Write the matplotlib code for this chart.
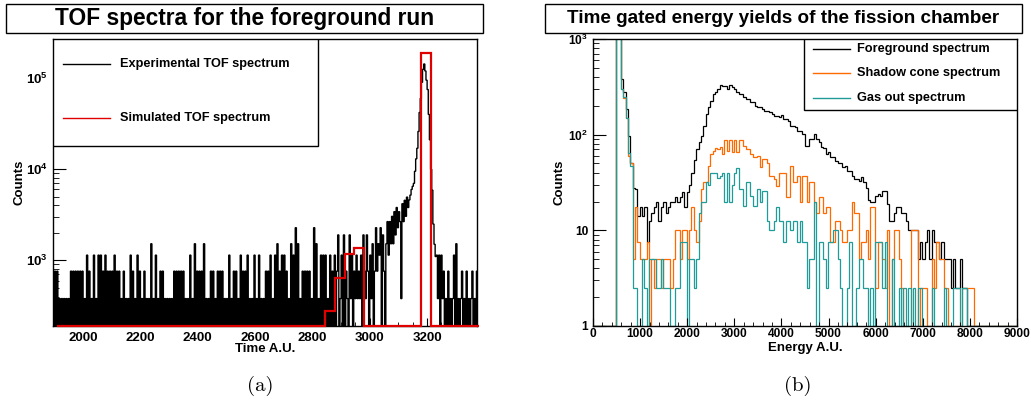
import numpy as np
import matplotlib
matplotlib.use('Agg')
import matplotlib.pyplot as plt
from matplotlib.patches import Rectangle
from matplotlib.ticker import FixedLocator, NullFormatter, MultipleLocator, LogLocator

plt.rcParams['font.family'] = ['Liberation Sans', 'DejaVu Sans']
plt.rcParams['font.weight'] = 'bold'
plt.rcParams['mathtext.fontset'] = 'custom'
plt.rcParams['mathtext.rm'] = 'Liberation Sans:bold'
plt.rcParams['mathtext.bf'] = 'Liberation Sans:bold'
plt.rcParams['mathtext.it'] = 'Liberation Sans:bold:italic'
plt.rcParams['mathtext.default'] = 'rm'

# ================= (a) TOF spectra =================
tof_start, tof_bin = 1896, 4      # measured TOF histogram: first edge, bin width
tof_unit = 380                    # counts per step of the digits below
# measured spectrum, 1896-3064, one digit per bin (x tof_unit counts)
tof_noise_lo = ("0202010101" "0101020202" "0202020103" "0201030103"
                "0302030202" "0203020201" "0201010302" "0103020102"
                "0101040103" "0102020101" "0101020202" "0202010103"
                "0104020202" "0401010202" "0102020201" "0103010202"
                "0103020203" "0101030103" "0101020203" "0103040203"
                "0302010403" "0604010202" "0202010604" "010303"
                "0301030203" "0250130502" "1051302131" "2130521520"
                "3140262436" "052047")
# measured spectrum, 3064-3232 (counts)
tof_peak = [1140, 2660, 1520, 3040, 1520, 3420, 1900, 3800, 2280, 3420,
            2660, 380, 4180, 2660, 4560, 3040, 4940, 3800,
            4600, 5200, 6000, 6500, 7000, 9500, 13000, 17000, 26000, 42000,
            60000, 90000, 125000, 143000, 120000, 95000, 75000, 40000,
            21000, 10000, 5900, 2500, 1500, 1100]
# measured spectrum, 3232-3376, one digit per bin (x tof_unit counts)
tof_noise_hi = "3130312010" "2010130401" "0120102010" "120102"

sim_start, sim_bin = 1910, 33.4   # simulated histogram layout
sim_counts = [0] * 28 + [277, 646, 1163, 1365] + [0] * 6 + [187000] + [0] * 5

tof_xticks = [2000, 2200, 2400, 2600, 2800, 3000, 3200]

# ================= (b) energy yields =================
e_start, e_bin = 490, 50          # first filled bin edge, bin width
foreground = [3000, 3000, 382, 277, 186, 98, 51, 28, 27, 14,
              17.5, 14, 17.5, 7.5, 12.5, 15, 17.5, 20, 12.5, 17.5,
              20, 15, 17.5, 20, 20, 22.5, 20, 22.5, 25, 17.5,
              25, 30, 40, 55, 70, 83, 98, 124, 165, 193,
              226, 266, 277, 300, 330, 320, 325, 300, 333, 313,
              300, 277, 266, 266, 246, 236, 236, 218, 218, 201,
              193, 193, 185, 178, 178, 171, 165, 158, 158, 152,
              161, 146, 146, 140, 124, 124, 119, 110, 110, 102,
              77, 77, 90, 90, 102, 90, 83, 74, 72, 63,
              66, 58, 58, 53, 51, 51, 46, 47, 42, 42,
              37, 34, 34, 33, 36, 32, 28, 21, 20, 20,
              23, 24, 23, 26, 26, 19, 12.5, 12.5, 15, 17.5,
              17.5, 15, 15, 12.5, 10, 10, 10, 10, 5, 7.5,
              5, 7.5, 10, 5, 10, 7.5, 7.5, 5, 7.5, 5,
              5, 5, 2.5, 5, 2.5, 2.5, 5, 2.5, 2.5, 0,
              0, 0]
shadow = [3000, 3000, 300, 240, 150, 60, 50, 5, 17.5, 7.5,
          5, 5, 5, 7.5, 0, 5, 2.5, 5, 5, 2.5,
          5, 5, 5, 2.5, 5, 10, 10, 5, 10, 10,
          5, 10, 17.5, 10, 7.5, 12.5, 27, 32, 32, 47,
          63, 68, 72, 70, 74, 63, 87, 68, 87, 66,
          87, 66, 87, 87, 77, 71, 71, 63, 58, 58,
          60, 46, 56, 56, 51, 37, 37, 34, 29, 40,
          40, 40, 22.5, 22.5, 47, 32, 32, 37, 20, 37,
          37, 20, 32, 32, 20, 15, 22.5, 22.5, 15, 17.5,
          17.5, 7.5, 7.5, 12.5, 12.5, 10, 7.5, 7.5, 10, 10,
          20, 15, 15, 5, 7.5, 7.5, 10, 5, 17.5, 17.5,
          2.5, 7.5, 7.5, 5, 2.5, 10, 0, 5, 10, 10,
          5, 2.5, 0, 0, 0, 10, 10, 10, 0, 2.5,
          2.5, 2.5, 0, 0, 5, 2.5, 7.5, 5, 5, 2.5,
          2.5, 0, 0, 0, 0, 0, 0, 2.5, 2.5, 2.5,
          2.5, 2.5]
gas_out = [3000, 3000, 300, 250, 150, 65, 47, 2.5, 2.5, 0,
           0, 5, 2.5, 0, 5, 5, 5, 2.5, 2.5, 5,
           2.5, 2.5, 2.5, 0, 0, 2.5, 2.5, 7.5, 7.5, 7.5,
           0, 5, 5, 2.5, 5, 15, 20, 20, 32, 30,
           40, 40, 40, 35, 37, 40, 20, 40, 20, 30,
           40, 45, 27, 27, 18, 32, 32, 23, 18, 18,
           27, 20, 26, 26, 12.5, 10, 10, 12.5, 17.5, 12.5,
           12.5, 7.5, 12.5, 12.5, 10, 12.5, 12.5, 7.5, 12.5, 7.5,
           7.5, 2.5, 5, 5, 20, 0, 7.5, 7.5, 5, 2.5,
           7.5, 7.5, 10, 10, 5, 2.5, 0, 0, 2.5, 7.5,
           0, 0, 2.5, 5, 5, 2.5, 2.5, 0, 2.5, 0,
           7.5, 7.5, 7.5, 2.5, 7.5, 0, 0, 5, 0, 0,
           2.5, 0, 2.5, 0, 2.5, 0, 2.5, 0, 2.5, 2.5,
           0, 0, 0, 0, 2.5, 0, 0, 0, 0, 2.5,
           0, 0, 0, 2.5, 2.5, 2.5, 0, 2.5, 2.5, 0,
           0, 0]
e_series = [("Foreground spectrum", foreground, 'black'),
            ("Shadow cone spectrum", shadow, '#ff6a00'),
            ("Gas out spectrum", gas_out, '#1f9c98')]

W, H = 1031, 403
fig = plt.figure(figsize=(W / 100, H / 100), dpi=100, facecolor='white')


def px_rect(x0, y0, x1, y1):
    return [x0 / W, 1 - y1 / H, (x1 - x0) / W, (y1 - y0) / H]


ax1 = fig.add_axes(px_rect(53, 39, 477, 326))
ax2 = fig.add_axes(px_rect(593, 39, 1017, 326))

# ---------- left panel ----------
ymin1 = 190
tof_vals = np.concatenate([np.array([int(c) for c in tof_noise_lo]) * tof_unit,
                           np.array(tof_peak),
                           np.array([int(c) for c in tof_noise_hi]) * tof_unit]).astype(float)
tof_edges = tof_start + tof_bin * np.arange(len(tof_vals) + 1)
st = ax1.stairs(np.maximum(tof_vals, ymin1), tof_edges, color='black', lw=1.0, baseline=None)
st.set_snap(False)

sim_edges = sim_start + sim_bin * np.arange(len(sim_counts) + 1)
ax1.stairs(np.maximum(np.array(sim_counts, float), ymin1), sim_edges, color='#e00000',
           lw=1.6, baseline=None, clip_on=False, zorder=4)

ax1.set_yscale('log')
ax1.set_xlim(1895, 3374)
ax1.set_ylim(ymin1, 2.69e5)
ax1.yaxis.set_major_locator(FixedLocator([1e3, 1e4, 1e5]))
ax1.set_yticklabels([r'$10^{3}$', r'$10^{4}$', r'$10^{5}$'])
ax1.yaxis.set_minor_locator(LogLocator(base=10, subs=np.arange(2, 10)))
ax1.yaxis.set_minor_formatter(NullFormatter())
ax1.set_xticks(tof_xticks)
ax1.set_xticklabels([str(t) for t in tof_xticks])
ax1.xaxis.set_minor_locator(MultipleLocator(50))
ax1.tick_params(which='both', direction='in', top=False, right=False, labelsize=9.5)
ax1.tick_params(axis='x', which='major', length=6, pad=4)
ax1.tick_params(axis='x', which='minor', length=3)
ax1.tick_params(axis='y', which='major', length=9.5, pad=3.5)
ax1.tick_params(axis='y', which='minor', length=4.5)
ax1.set_xlabel('Time A.U.', fontsize=9.5, fontweight='bold')
ax1.set_ylabel('Counts', fontsize=9.5, fontweight='bold')
ax1.xaxis.set_label_coords(0.5, -0.08)
ax1.xaxis.label.set_va('center')
ax1.yaxis.set_label_coords(-0.078, 0.5)
ax1.yaxis.label.set_va('center')

# legend box (a)
ax1.add_patch(Rectangle((0, 0.627), 0.625, 0.373, transform=ax1.transAxes,
                        facecolor='white', edgecolor='black', lw=1, zorder=5))
for yy, col, lab in [(0.913, 'black', 'Experimental TOF spectrum'),
                     (0.725, '#e00000', 'Simulated TOF spectrum')]:
    ax1.plot([0.024, 0.134], [yy, yy], color=col, lw=1, transform=ax1.transAxes, zorder=6)
    ax1.text(0.158, yy, lab, transform=ax1.transAxes, fontsize=9.2, fontweight='bold',
             va='center', ha='left', zorder=6)

# ---------- right panel ----------
ymin2 = 1
n_pre = 10                         # empty bins below e_start (edges start at -10)
for lab, vals, col in e_series:
    full = np.concatenate([np.zeros(n_pre), np.array(vals, float), np.zeros(20)])
    edges = (e_start - n_pre * e_bin) + e_bin * np.arange(len(full) + 1)
    ax2.stairs(np.maximum(full, ymin2), edges, color=col, lw=0.9, baseline=None)

ax2.set_yscale('log')
ax2.set_xlim(0, 9000)
ax2.set_ylim(ymin2, 1000)
ax2.yaxis.set_major_locator(FixedLocator([1, 10, 100, 1000]))
ax2.set_yticklabels(['1', '10', r'$10^{2}$', r'$10^{3}$'])
ax2.yaxis.set_minor_locator(LogLocator(base=10, subs=np.arange(2, 10)))
ax2.yaxis.set_minor_formatter(NullFormatter())
ax2.xaxis.set_major_locator(MultipleLocator(1000))
ax2.xaxis.set_minor_locator(MultipleLocator(200))
ax2.tick_params(which='both', direction='in', top=False, right=False, labelsize=8.6)
ax2.tick_params(axis='x', which='major', length=6, pad=1.5)
ax2.tick_params(axis='x', which='minor', length=3)
ax2.tick_params(axis='y', which='major', length=9, pad=3.5)
ax2.tick_params(axis='y', which='minor', length=4.5)
ax2.set_xlabel('Energy A.U.', fontsize=9.5, fontweight='bold')
ax2.set_ylabel('Counts', fontsize=9.5, fontweight='bold')
ax2.xaxis.set_label_coords(0.5, -0.077)
ax2.xaxis.label.set_va('center')
ax2.yaxis.set_label_coords(-0.080, 0.5)
ax2.yaxis.label.set_va('center')

# legend box (b)
ax2.add_patch(Rectangle((0.4976, 0.753), 0.5024, 0.247, transform=ax2.transAxes,
                        facecolor='white', edgecolor='black', lw=1, zorder=5))
for yy, (lab, vals, col) in zip([0.965, 0.882, 0.794], e_series):
    ax2.plot([0.519, 0.606], [yy, yy], color=col, lw=1, transform=ax2.transAxes, zorder=6)
    ax2.text(0.623, yy, lab, transform=ax2.transAxes, fontsize=9.2, fontweight='bold',
             va='center', ha='left', zorder=6)

for ax in (ax1, ax2):
    for sp in ax.spines.values():
        sp.set_linewidth(1.0)

# ---------- title boxes ----------
for (x0, x1), title, fs in [((6, 483), 'TOF spectra for the foreground run', 16.4),
                            ((545, 1022), 'Time gated energy yields of the fission chamber', 13.6)]:
    fig.add_artist(Rectangle((x0 / W, 1 - 33 / H), (x1 - x0) / W, 29 / H,
                             transform=fig.transFigure, facecolor='white',
                             edgecolor='black', lw=1))
    fig.text((x0 + x1) / 2 / W, 1 - 18.5 / H, title, ha='center', va='center',
             fontsize=fs, fontweight='bold')

# ---------- sub-captions ----------
fig.text(260 / W, 1 - 386 / H, '(a)', family='cmr10', fontsize=15, fontweight='normal',
         ha='center', va='center')
fig.text(798 / W, 1 - 386 / H, '(b)', family='cmr10', fontsize=15, fontweight='normal',
         ha='center', va='center')

fig.savefig('out.png', dpi=100, facecolor='white')
